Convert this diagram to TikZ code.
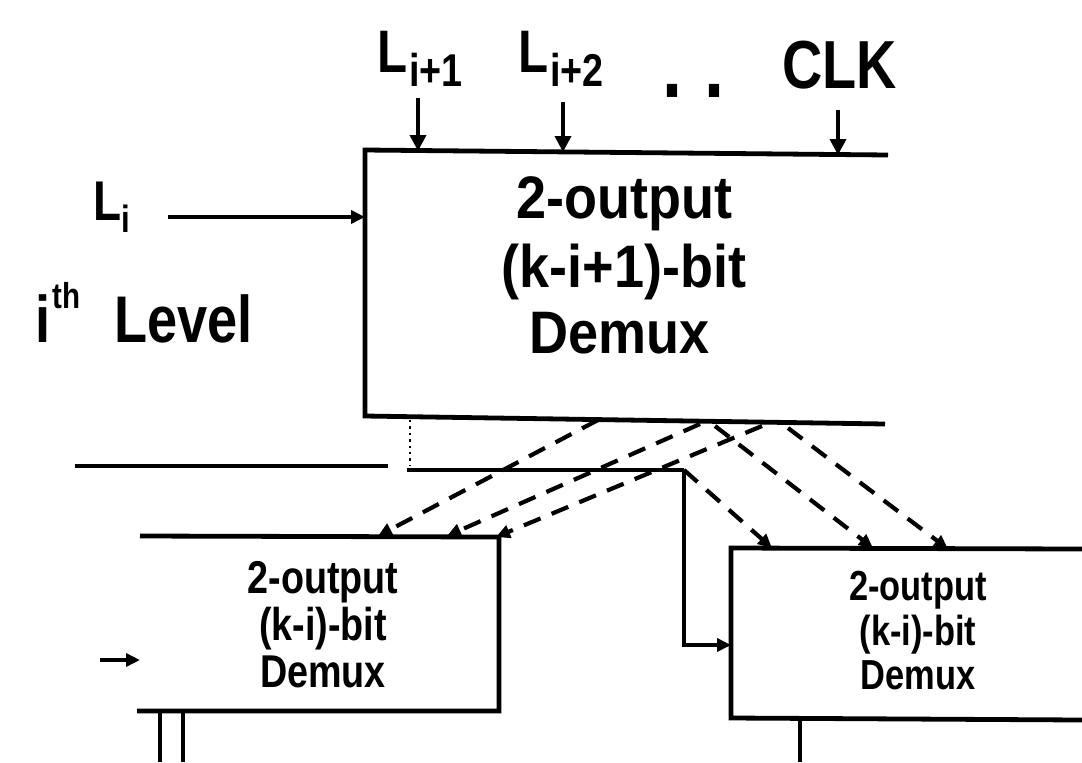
\documentclass[tikz,border=0pt]{standalone}
\usepackage{fontspec}
\setmainfont[FakeStretch=0.82]{Liberation Sans}
\newfontfamily\wideface[FakeStretch=0.9]{Liberation Sans}
\usetikzlibrary{arrows.meta}
\begin{document}
\begin{tikzpicture}[x=0.5pt,y=-0.5pt,
  wire/.style={line width=2.4pt},
  thin wire/.style={line width=1.8pt},
  tip/.style={-{Triangle[length=7pt,width=6.5pt]}},
  bigtip/.style={-{Triangle[length=8pt,width=8pt]}},
  dline/.style={line width=2.1pt, dash pattern=on 9pt off 6pt},
  lbl/.style={inner sep=0pt, anchor=base, font=\bfseries},
  lblw/.style={inner sep=0pt, anchor=base west, font=\bfseries},
  bigtxt/.style={font=\wideface\bfseries\fontsize{30}{30}\selectfont},
  midtxt/.style={font=\bfseries\fontsize{23}{23}\selectfont},
  smalltxt/.style={font=\bfseries\fontsize{21}{21}\selectfont},
]
\useasboundingbox (0,0) rectangle (1082,762);

% ---------- top labels ----------
\node[lblw, font=\bfseries\fontsize{30}{30}\selectfont] (lip1) at (377,72) {L\hspace{1pt}\raisebox{-7pt}{\fontsize{23}{23}\selectfont i+1}};
\node[lblw, font=\bfseries\fontsize{30}{30}\selectfont] (lip2) at (518,72) {L\hspace{1pt}\raisebox{-7pt}{\fontsize{23}{23}\selectfont i+2}};
\node[lblw, font=\bfseries\fontsize{44}{44}\selectfont] (dots) at (662,97) {.\hspace{11pt}.};
\node[lblw, font=\bfseries\fontsize{34}{34}\selectfont] (clk) at (782,88) {CLK};

% ---------- main box ----------
\coordinate (mTL) at (365,150);
\coordinate (mTR) at (888,155);
\coordinate (mBL) at (365,416);
\coordinate (mBR) at (885,424);
\draw[wire] (mTR) -- (mTL) -- (mBL) -- (mBR);
\node[lbl, bigtxt] (m1) at (624,218) {2-output};
\node[lbl, bigtxt] (m2) at (624,287) {(k-i+1)-bit};
\node[lbl, bigtxt] (m3) at (620,353) {Demux};

% top input arrows
\coordinate (a1s) at (418,98);  \coordinate (a1e) at (418,151);
\coordinate (a2s) at (563,102); \coordinate (a2e) at (563,152);
\coordinate (a3s) at (838,110); \coordinate (a3e) at (838,155);
\draw[thin wire, bigtip] (a1s) -- (a1e);
\draw[thin wire, bigtip] (a2s) -- (a2e);
\draw[thin wire, bigtip] (a3s) -- (a3e);

% L_i input
\node[lblw, font=\bfseries\fontsize{28}{28}\selectfont] (li) at (93,220) {L\raisebox{-6pt}{\fontsize{19}{19}\selectfont i}};
\coordinate (lis) at (168,217); \coordinate (lie) at (365,217);
\draw[thin wire, tip] (lis) -- (lie);

% level label
\node[lblw, font=\bfseries\fontsize{33}{33}\selectfont] (lvl) at (35,342) {i\hspace{1pt}\raisebox{17pt}{\fontsize{18}{18}\selectfont th}\hspace{17pt}Level};

% ---------- horizontal bus lines ----------
\coordinate (h1a) at (75,466); \coordinate (h1b) at (388,466);
\draw[wire] (h1a) -- (h1b);
\coordinate (h2a) at (407,470); \coordinate (jn) at (684,470);
\draw[wire] (h2a) -- (jn);
\coordinate (dv1) at (410,420); \coordinate (dv2) at (410,466);
\draw[line width=1.2pt, dotted] (dv1) -- (dv2);

% ---------- left lower box ----------
\coordinate (lTL) at (140,536);
\coordinate (lTR) at (499,537);
\coordinate (lBR) at (499,711);
\coordinate (lBL) at (137,711);
\draw[wire] (lTL) -- (lTR) -- (lBR) -- (lBL);
\node[lbl, midtxt] (l1) at (323,593) {2-output};
\node[lbl, midtxt] (l2) at (323,640) {(k-i)-bit};
\node[lbl, midtxt] (l3) at (323,687) {Demux};
\coordinate (lin) at (100,660); \coordinate (line) at (140,660);
\draw[thin wire, tip] (lin) -- (line);
\coordinate (s1a) at (160,711); \coordinate (s1b) at (160,762);
\coordinate (s2a) at (183,711); \coordinate (s2b) at (183,762);
\draw[thin wire] (s1a) -- (s1b);
\draw[thin wire] (s2a) -- (s2b);

% ---------- right lower box ----------
\coordinate (rTL) at (731,548);
\coordinate (rTR) at (1082,549);
\coordinate (rBL) at (731,718);
\coordinate (rBR) at (1082,720);
\draw[wire] (rTR) -- (rTL) -- (rBL) -- (rBR);
\node[lbl, smalltxt] (r1) at (918,600) {2-output};
\node[lbl, smalltxt] (r2) at (918,645) {(k-i)-bit};
\node[lbl, smalltxt] (r3) at (918,689) {Demux};
\coordinate (jd) at (684,645); \coordinate (rin) at (731,645);
\draw[thin wire, tip] (jn) -- (jd) -- (rin);
\coordinate (s3a) at (800,718); \coordinate (s3b) at (800,762);
\draw[thin wire] (s3a) -- (s3b);

% ---------- dashed outputs ----------
\coordinate (o1) at (598,420); \coordinate (t1) at (378,536);
\coordinate (o2) at (700,424); \coordinate (t2) at (447,536);
\coordinate (o3) at (762,426); \coordinate (t3) at (496,537);
\coordinate (t4) at (772,548);
\coordinate (o5) at (715,426); \coordinate (t5) at (873,548);
\coordinate (o6) at (788,428); \coordinate (t6) at (948,549);
\draw[dline, tip] (o1) -- (t1);
\draw[dline, tip] (o2) -- (t2);
\draw[dline, tip] (o3) -- (t3);
\draw[dline, tip] (jn) -- (t4);
\draw[dline, tip] (o5) -- (t5);
\draw[dline, tip] (o6) -- (t6);
\end{tikzpicture}
\end{document}
